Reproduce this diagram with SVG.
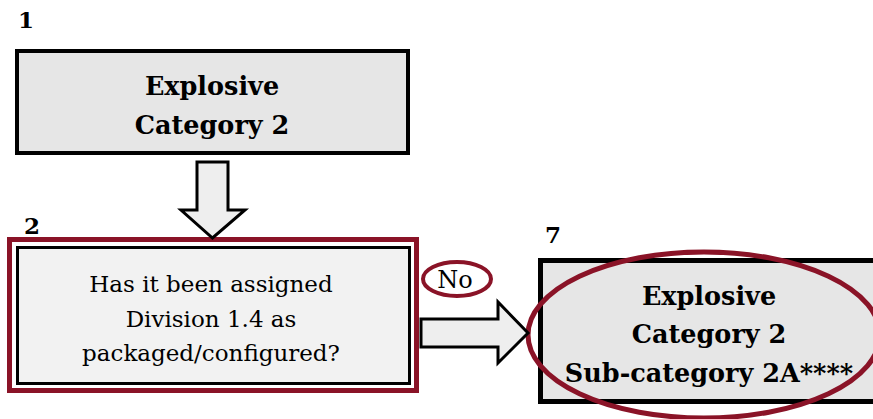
<svg xmlns="http://www.w3.org/2000/svg" width="873" height="419" viewBox="0 0 873 419">
<style>
  text { font-family: 'DejaVu Serif', 'Liberation Serif', serif; fill: #000; }
  .num { font-weight: bold; font-size: 23px; }
  .bold { font-weight: bold; font-size: 25.5px; text-anchor: middle; }
  .reg { font-size: 23px; text-anchor: middle; }
  .arrow { fill: #eeeeee; stroke: #000; stroke-width: 3; stroke-linejoin: miter; }
  .hl { fill: none; stroke: #8a1327; }
</style>
<rect width="873" height="419" fill="#ffffff"/>

<g id="node1">
  <text class="num" x="18" y="28">1</text>
  <rect x="17" y="51" width="391" height="102" fill="#e6e6e6" stroke="#000" stroke-width="4"/>
  <text class="bold" x="212" y="95">Explosive</text>
  <text class="bold" x="212" y="134">Category 2</text>
</g>

<g id="node2">
  <text class="num" x="24" y="234">2</text>
  <rect x="9.5" y="239.5" width="407" height="151" fill="#ffffff" stroke="#8a1327" stroke-width="5"/>
  <rect x="17.5" y="247.5" width="392" height="136" fill="#f2f2f2" stroke="#000" stroke-width="3"/>
  <text class="reg" x="211" y="292">Has it been assigned</text>
  <text class="reg" x="211" y="327">Division 1.4 as</text>
  <text class="reg" x="211" y="361">packaged/configured?</text>
</g>

<g id="node7">
  <text class="num" x="545" y="243">7</text>
  <rect x="540.5" y="260.5" width="345" height="141" fill="#e6e6e6" stroke="#000" stroke-width="5"/>
  <text class="bold" x="709" y="305">Explosive</text>
  <text class="bold" x="709" y="343">Category 2</text>
  <text class="bold" x="709" y="382">Sub-category 2A****</text>
  <ellipse class="hl" cx="704" cy="335" rx="176" ry="83" stroke-width="5"/>
</g>

<g id="connectors">
  <polygon class="arrow" points="197,162 228,162 228,210 245,210 212.5,238 181,210 197,210"/>
  <polygon class="arrow" points="421,319 498,319 498,302 528,333 498,363 498,347 421,347"/>
  <g id="label-no">
    <ellipse class="hl" cx="457" cy="279" rx="34" ry="17" stroke-width="4"/>
    <text class="reg" x="455" y="288" style="font-size:24px">No</text>
  </g>
</g>
</svg>
